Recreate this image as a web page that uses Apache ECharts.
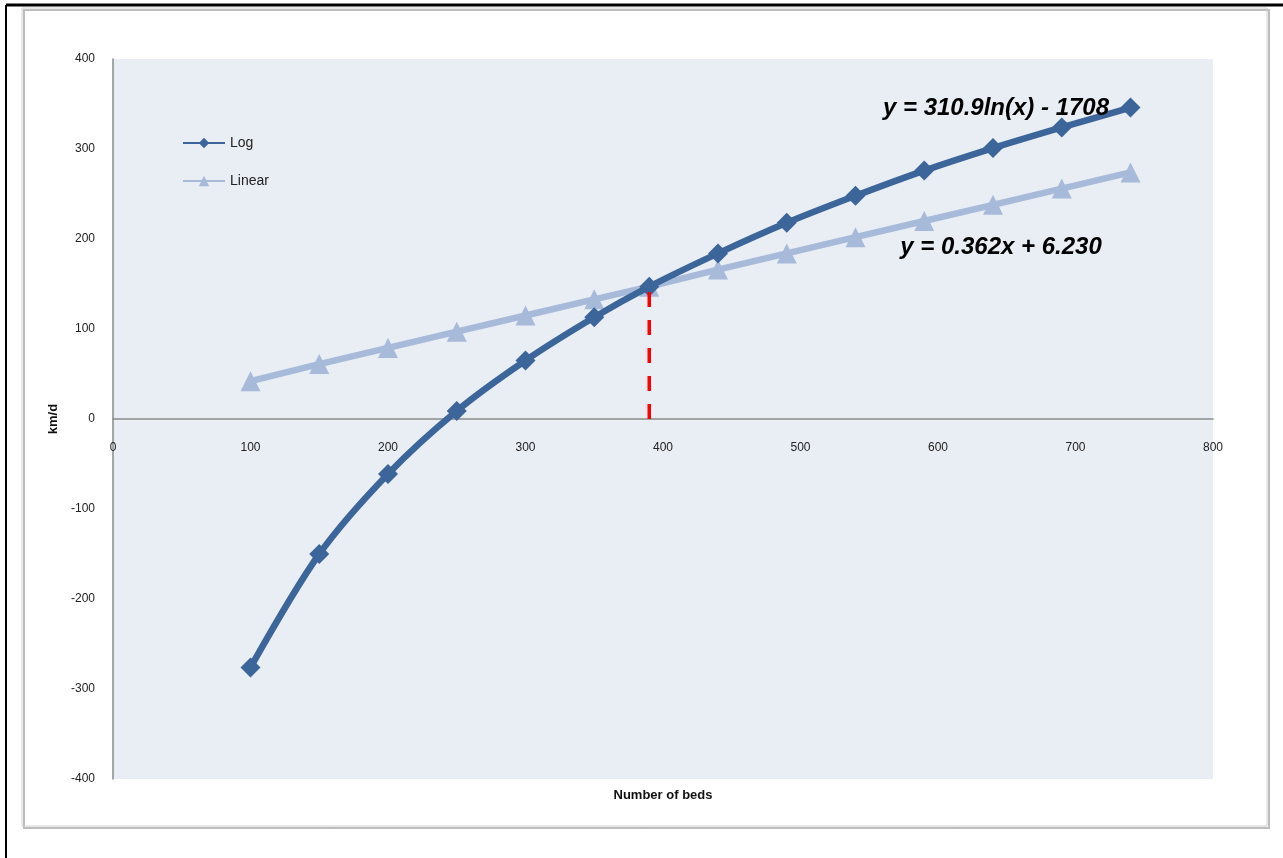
<!DOCTYPE html>
<html><head><meta charset="utf-8">
<script src="https://cdn.jsdelivr.net/npm/echarts@6/dist/echarts.min.js"></script>
<style>html,body{margin:0;padding:0;background:#fff}#c{width:1283px;height:858px}</style>
</head><body><div id="c"></div>
<script>
const beds = [100,150,200,250,300,350,390,440,490,540,590,640,690,740];
const logValues = [-276,-150,-61,9,65,113,147,184,218,248,276,301,324,346];
const linearValues = [42,61,79,97,115,133,147,166,184,202,220,238,256,274];
const intersectX = 390;
const intersectY = 150;
const xTicks = {min:0,max:800,interval:100};
const yTicks = {min:-400,max:400,interval:100};
const logLabel = 'y = 310.9ln(x) - 1708';
const linearLabel = 'y = 0.362x + 6.230';

const chart = echarts.init(document.getElementById('c'));
const FONT = 'Liberation Sans, Arial, sans-serif';
chart.setOption({
  animation:false,
  backgroundColor:'#fff',
  textStyle:{fontFamily:FONT},
  grid:{left:113,right:70,top:59,bottom:79,show:true,backgroundColor:'#E9EDF4',borderWidth:0},
  legend:{
    left:177, top:131, orient:'vertical', itemGap:24, itemWidth:42, itemHeight:13,
    textStyle:{fontFamily:FONT,fontSize:14,color:'#222'},
    data:['Log','Linear']
  },
  xAxis:{
    type:'value', min:xTicks.min, max:xTicks.max, interval:xTicks.interval,
    offset:-360,
    name:'Number of beds', nameLocation:'middle', nameGap:370,
    nameTextStyle:{fontFamily:FONT,fontWeight:'bold',fontSize:13,color:'#111'},
    axisLine:{onZero:false,lineStyle:{color:'#8a8a8a',width:1.5}},
    axisTick:{show:false}, splitLine:{show:false},
    axisLabel:{fontFamily:FONT,fontSize:12,color:'#222',margin:23}
  },
  yAxis:{
    type:'value', min:yTicks.min, max:yTicks.max, interval:yTicks.interval,
    name:'km/d', nameLocation:'middle', nameGap:52, nameRotate:90,
    nameTextStyle:{fontFamily:FONT,fontWeight:'bold',fontSize:13,color:'#111'},
    axisLine:{show:true,onZero:false,lineStyle:{color:'#8a8a8a',width:1.5}},
    axisTick:{show:false}, splitLine:{show:false},
    axisLabel:{fontFamily:FONT,fontSize:12,color:'#222',margin:18}
  },
  series:[
    {
      name:'Log', type:'line', smooth:0.3, z:3,
      data:beds.map((b,i)=>[b,logValues[i]]),
      symbol:'diamond', symbolSize:20,
      lineStyle:{color:'#3C659A',width:6.5},
      itemStyle:{color:'#3C659A'}
    },
    {
      name:'Linear', type:'line', z:2,
      data:beds.map((b,i)=>[b,linearValues[i]]),
      symbol:'triangle', symbolSize:20,
      lineStyle:{color:'#A7BAD9',width:6.5},
      itemStyle:{color:'#A7BAD9'}
    },
    {
      name:'cross', type:'line', z:4, symbol:'none', silent:true,
      data:[[intersectX,0],[intersectX,intersectY]],
      lineStyle:{color:'#FF0000',width:3.5,type:[15,13]}
    }
  ],
  graphic:[
    {type:'line',shape:{x1:6,y1:5,x2:1283,y2:5},style:{stroke:'#000',lineWidth:3}},
    {type:'line',shape:{x1:6,y1:5,x2:6,y2:858},style:{stroke:'#000',lineWidth:2}},
    {type:'rect',shape:{x:24,y:10,width:1245,height:818},style:{fill:null,stroke:'#bdbdbd',lineWidth:2},z:-1},
    {type:'rect',shape:{x:22,y:8,width:1245,height:818},style:{fill:null,stroke:'#d0d0d0',lineWidth:1},z:-1},
    {type:'text',x:996,y:108,style:{text:logLabel,font:'italic bold 24px '+FONT,fill:'#000',align:'center',verticalAlign:'middle'},z:10},
    {type:'text',x:1001,y:247,style:{text:linearLabel,font:'italic bold 24px '+FONT,fill:'#000',align:'center',verticalAlign:'middle'},z:10}
  ]
});
</script></body></html>
